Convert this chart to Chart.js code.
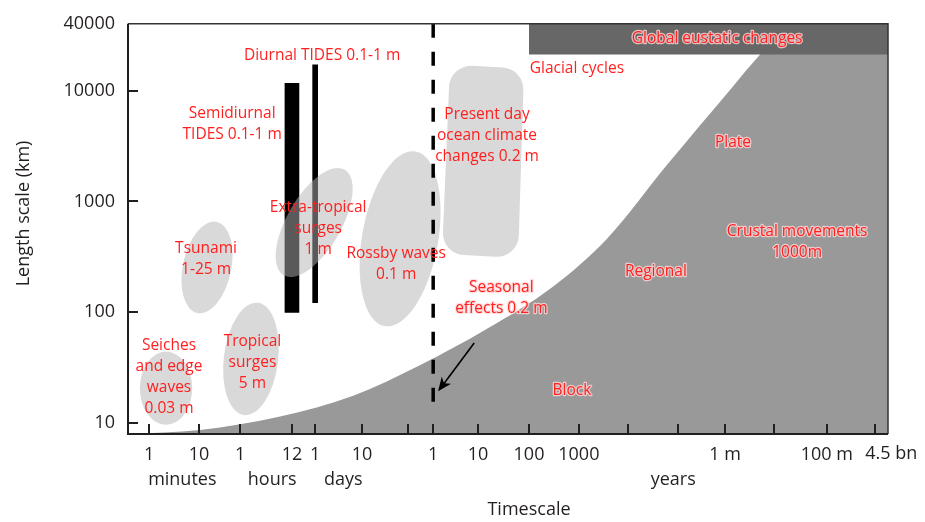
<!DOCTYPE html>
<html>
<head>
<meta charset="utf-8">
<title>Length scale vs timescale of sea-level change</title>
<script src="https://cdn.jsdelivr.net/npm/chart.js@4.4.1/dist/chart.umd.min.js"></script>
<style>
  html, body { margin: 0; padding: 0; background: #fff; }
  #wrap { width: 925px; height: 522px; }
</style>
</head>
<body>
<div id="wrap"><canvas id="chart" width="925" height="522"></canvas></div>
<script>
// --- Axes ---
// time axis is schematic: roughly one unit per decade, 1 minute = 0
const timeMin = -0.43, timeMax = 14.96;
const timeTickPos    = [0, 1.01, 1.84, 2.89, 3.36, 4.31, 5.24, 5.75, 6.66, 7.69, 8.70, 9.70, 10.71, 11.66, 12.65, 13.72, 14.70];
const timeTickLabels = ['1', '10', '1', '12', '1', '10', '', '1', '10', '100', '1000', '', '', '1 m', '', '100 m', '4.5 bn'];
const timeUnitLabels = ['minutes', 'hours', 'days', 'years'];
const timeUnitPos    = [0.67, 2.49, 3.93, 10.61];
const timeTitle = 'Timescale';

const lengthMin = 8, lengthMax = 40000;
const lengthTicks = [10, 100, 1000, 10000, 40000];
const lengthTitle = 'Length scale (km)';

// --- Boundary of the solid-earth domain (grey) ---
const boundaryT  = [-0.43, 1.03, 2.65, 4.13, 5.49, 6.84, 8.18, 9.27, 10.49, 11.82, 12.37, 12.98, 14.96];
const boundaryKm = [8, 8.7, 11.5, 17.7, 33.5, 71, 171, 461, 2150, 10900, 21100, 40000, 40000];

// global eustatic band
const eustaticT  = [7.69, 14.96];
const eustaticKm = 21100;

// --- Tides (black bars) ---
const tideT      = [2.89, 3.36];
const tideKmLow  = [100, 122];
const tideKmHigh = [11600, 17100];

// --- Ocean processes (grey blobs) ---
const blobNames   = ['Seiches', 'Tsunami', 'Tropical surges', 'Extra-tropical surges', 'Rossby waves'];
const blobT       = [0.34, 1.17, 2.06, 3.34, 5.08];
const blobKm      = [20.7, 254, 38, 646, 461];
const blobHalfT   = [0.53, 0.49, 0.55, 0.55, 0.77];
const blobHalfDec = [0.33, 0.42, 0.51, 0.55, 0.80];
const blobTilt    = [0, 12, 7, 30, 10];

// present day ocean climate box (corners: TL, TR, BR, BL)
const climateT  = [6.09, 7.59, 7.47, 5.93];
const climateKm = [17100, 15800, 310, 336];

// present day marker (1 year) and seasonal arrow
const presentT  = 5.75;
const presentKm = [40000, 11.7];
const arrowT  = [6.58, 5.85];
const arrowKm = [52.9, 19.4];

// --- Labels ---
const labelText = [
  ['Diurnal TIDES 0.1-1 m'],
  ['Semidiurnal', 'TIDES 0.1-1 m'],
  ['Extra-tropical', 'surges', '1 m'],
  ['Tsunami', '1-25 m'],
  ['Seiches', 'and edge', 'waves', '0.03 m'],
  ['Tropical', 'surges', '5 m'],
  ['Rossby waves', '0.1 m'],
  ['Present day', 'ocean climate', 'changes 0.2 m'],
  ['Glacial cycles'],
  ['Global eustatic changes'],
  ['Plate'],
  ['Crustal movements', '1000m'],
  ['Regional'],
  ['Seasonal', 'effects 0.2 m'],
  ['Block']
];
const labelT  = [3.50, 1.68, 3.42, 1.15, 0.40, 2.09, 5.0, 6.84, 8.66, 11.5, 11.82, 13.12, 10.26, 7.13, 8.56];
const labelKm = [20700, 5000, 574, 304, 26, 35, 275, 3920, 15800, 29400, 3370, 434, 235, 135, 19.8];
const labelHalo = [false, false, false, false, false, false, false, false, false, true, true, true, true, true, true];

const RED = '#ff1f1f';
const INK = '#231f20';
const FONT = '"Open Sans", "Noto Sans", sans-serif';

Chart.defaults.font.family = FONT;
Chart.defaults.color = INK;

// blobs sit under the dashed line but over the bars
const blobPlugin = {
  id: 'blobs',
  beforeDatasetDraw(chart, args) {
    if (args.index !== 0) return;
    const ctx = chart.ctx, xs = chart.scales.x, ys = chart.scales.y;
    ctx.save();
    ctx.fillStyle = 'rgba(180,180,180,0.5)';
    blobT.forEach((t, i) => {
      const cx = xs.getPixelForValue(t);
      const cy = ys.getPixelForValue(blobKm[i]);
      const rx = Math.abs(xs.getPixelForValue(t + blobHalfT[i]) - cx);
      const ry = Math.abs(ys.getPixelForValue(blobKm[i] * Math.pow(10, blobHalfDec[i])) - cy);
      ctx.beginPath();
      ctx.ellipse(cx, cy, rx, ry, blobTilt[i] * Math.PI / 180, 0, Math.PI * 2);
      ctx.fill();
    });
    // rounded box
    const pts = climateT.map((t, i) => [xs.getPixelForValue(t), ys.getPixelForValue(climateKm[i])]);
    const r = 22;
    ctx.beginPath();
    ctx.moveTo((pts[3][0] + pts[0][0]) / 2, (pts[3][1] + pts[0][1]) / 2);
    for (let i = 0; i < 4; i++) {
      const a = pts[i], b = pts[(i + 1) % 4];
      ctx.arcTo(a[0], a[1], b[0], b[1], r);
    }
    ctx.closePath();
    ctx.fill();
    ctx.restore();
  }
};

const overlayPlugin = {
  id: 'overlay',
  afterDatasetsDraw(chart) {
    const ctx = chart.ctx, xs = chart.scales.x, ys = chart.scales.y;
    const a = chart.chartArea;
    ctx.save();

    // frame
    ctx.strokeStyle = '#333';
    ctx.lineWidth = 1.5;
    ctx.beginPath();
    ctx.moveTo(a.left, a.top); ctx.lineTo(a.right, a.top); ctx.lineTo(a.right, a.bottom);
    ctx.stroke();
    ctx.strokeStyle = INK;
    ctx.lineWidth = 2;
    ctx.beginPath();
    ctx.moveTo(a.left, a.top); ctx.lineTo(a.left, a.bottom); ctx.lineTo(a.right, a.bottom);
    ctx.stroke();

    // inward ticks
    ctx.beginPath();
    timeTickPos.forEach(v => {
      const px = Math.round(xs.getPixelForValue(v));
      ctx.moveTo(px, a.bottom); ctx.lineTo(px, a.bottom - 10);
    });
    lengthTicks.slice(0, 4).forEach(v => {
      const py = Math.round(ys.getPixelForValue(v));
      ctx.moveTo(a.left, py); ctx.lineTo(a.left + 10, py);
    });
    ctx.stroke();

    // last time label hangs to the right of its tick
    const last = timeTickPos.length - 1;
    ctx.fillStyle = INK;
    ctx.font = '18px ' + FONT;
    ctx.textAlign = 'left';
    ctx.textBaseline = 'middle';
    ctx.fillText(timeTickLabels[last], xs.getPixelForValue(timeTickPos[last]) - 10, 454);

    // unit names under the time ticks, then axis titles
    ctx.textAlign = 'center';
    timeUnitLabels.forEach((s, i) => ctx.fillText(s, xs.getPixelForValue(timeUnitPos[i]), 480));
    ctx.fillText(timeTitle, xs.getPixelForValue(7.69), 510);
    ctx.save();
    ctx.translate(24, ys.getPixelForValue(780));
    ctx.rotate(-Math.PI / 2);
    ctx.fillText(lengthTitle, 0, 0);
    ctx.restore();

    // seasonal arrow
    const x0 = xs.getPixelForValue(arrowT[0]), y0 = ys.getPixelForValue(arrowKm[0]);
    const x1 = xs.getPixelForValue(arrowT[1]), y1 = ys.getPixelForValue(arrowKm[1]);
    const ang = Math.atan2(y1 - y0, x1 - x0);
    ctx.strokeStyle = '#000';
    ctx.lineWidth = 1.6;
    ctx.beginPath();
    ctx.moveTo(x0, y0);
    ctx.lineTo(x1 - 8 * Math.cos(ang), y1 - 8 * Math.sin(ang));
    ctx.stroke();
    ctx.fillStyle = '#000';
    ctx.beginPath();
    ctx.moveTo(x1, y1);
    ctx.lineTo(x1 - 15 * Math.cos(ang - 0.4), y1 - 15 * Math.sin(ang - 0.4));
    ctx.lineTo(x1 - 10 * Math.cos(ang), y1 - 10 * Math.sin(ang));
    ctx.lineTo(x1 - 15 * Math.cos(ang + 0.4), y1 - 15 * Math.sin(ang + 0.4));
    ctx.closePath();
    ctx.fill();

    // process labels
    ctx.font = '15.5px ' + FONT;
    const lh = 21;
    labelText.forEach((lines, i) => {
      const cx = xs.getPixelForValue(labelT[i]);
      const cy = ys.getPixelForValue(labelKm[i]);
      lines.forEach((s, j) => {
        const y = cy + (j - (lines.length - 1) / 2) * lh;
        if (labelHalo[i]) {
          ctx.strokeStyle = 'rgba(255,215,215,0.8)';
          ctx.lineWidth = 2.5;
          ctx.lineJoin = 'round';
          ctx.strokeText(s, cx, y);
        }
        ctx.fillStyle = RED;
        ctx.fillText(s, cx, y);
      });
    });
    ctx.restore();
  }
};

const xy = (ts, ks) => ts.map((t, i) => ({ x: t, y: Array.isArray(ks) ? ks[i] : ks }));

new Chart(document.getElementById('chart'), {
  type: 'line',
  data: {
    datasets: [
      {
        label: 'Present day',
        data: [{ x: presentT, y: presentKm[0] }, { x: presentT, y: presentKm[1] }],
        borderColor: '#000',
        borderWidth: 3.5,
        borderDash: [14, 14],
        pointRadius: 0,
        fill: false,
        order: 1
      },
      {
        type: 'bar',
        label: 'Semidiurnal tides',
        data: [{ x: tideT[0], y: [tideKmLow[0], tideKmHigh[0]] }],
        backgroundColor: '#000',
        barThickness: 14,
        grouped: false,
        order: 3
      },
      {
        type: 'bar',
        label: 'Diurnal tides',
        data: [{ x: tideT[1], y: [tideKmLow[1], tideKmHigh[1]] }],
        backgroundColor: '#000',
        barThickness: 5,
        grouped: false,
        order: 3
      },
      {
        label: 'Global eustatic changes',
        data: xy(eustaticT, eustaticKm),
        borderWidth: 0,
        pointRadius: 0,
        backgroundColor: '#676767',
        fill: 'end',
        order: 5
      },
      {
        label: 'Solid earth',
        data: xy(boundaryT, boundaryKm),
        borderWidth: 0,
        pointRadius: 0,
        backgroundColor: '#999999',
        cubicInterpolationMode: 'monotone',
        fill: 'start',
        order: 6
      }
    ]
  },
  options: {
    responsive: false,
    animation: false,
    devicePixelRatio: 1,
    layout: { padding: { top: 17, right: 37, left: 0, bottom: 0 } },
    plugins: { legend: { display: false }, tooltip: { enabled: false } },
    scales: {
      x: {
        type: 'linear',
        min: timeMin,
        max: timeMax,
        offset: false,
        border: { display: false },
        grid: { display: false, drawTicks: false },
        afterBuildTicks: s => { s.ticks = timeTickPos.map(v => ({ value: v })); },
        afterFit: s => { s.height = 88; },
        ticks: {
          autoSkip: false,
          maxRotation: 0,
          minRotation: 0,
          padding: 10,
          color: INK,
          font: { size: 18 },
          callback: (v, i) => (i === timeTickPos.length - 1 ? '' : timeTickLabels[i])
        }
      },
      y: {
        type: 'logarithmic',
        min: lengthMin,
        max: lengthMax,
        border: { display: false },
        grid: { display: false, drawTicks: false },
        afterBuildTicks: s => { s.ticks = lengthTicks.map(v => ({ value: v })); },
        afterFit: s => { s.width = 128; },
        ticks: {
          padding: 13,
          color: INK,
          font: { size: 18 },
          callback: v => String(v)
        }
      }
    }
  },
  plugins: [blobPlugin, overlayPlugin]
});
</script>
</body>
</html>
